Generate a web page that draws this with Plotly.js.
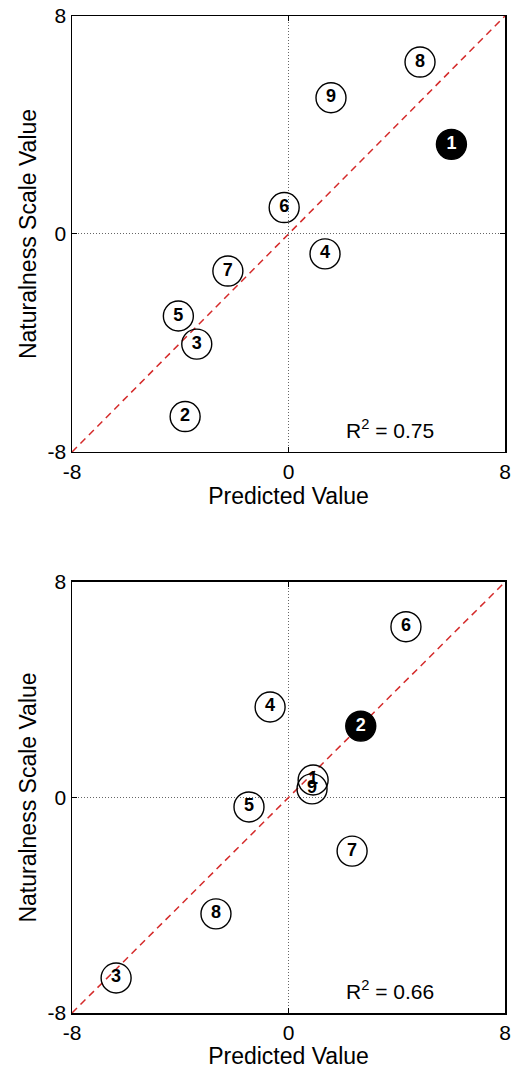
<!DOCTYPE html>
<html>
<head>
<meta charset="utf-8">
<script src="https://cdn.plot.ly/plotly-3.0.1.min.js"></script>
<style>html,body{margin:0;padding:0;background:#fff;}#chart{width:519px;height:1069px;}</style>
</head>
<body>
<div id="chart"></div>
<script>
// Point labels (shared by both panels)
const pointLabels = ['1','2','3','4','5','6','7','8','9'];

// Top panel
const topPredicted = [6.02, -3.82, -3.39, 1.35, -4.07, -0.16, -2.24, 4.86, 1.57];
const topScale     = [3.29, -6.70, -4.04, -0.73, -3.01, 0.97, -1.36, 6.31, 5.00];
const topHighlight = '1';
const topR2 = '0.75';

// Bottom panel
const botPredicted = [0.91, 2.67, -6.37, -0.68, -1.46, 4.34, 2.35, -2.68, 0.87];
const botScale     = [0.65, 2.65, -6.70, 3.36, -0.35, 6.34, -1.99, -4.32, 0.32];
const botHighlight = '2';
const botR2 = '0.66';

// Identity line and axis ticks
const identity = [-8, 8];
const tickVals = [-8, 0, 8];
const xTitle = 'Predicted Value';
const yTitle = 'Naturalness Scale Value';

const FONT = 'Arial, "Liberation Sans", sans-serif';

function panelTraces(xs, ys, hl, xa, ya) {
  const open = {x: [], y: [], t: []};
  const filled = {x: [], y: [], t: []};
  pointLabels.forEach((lab, i) => {
    const g = lab === hl ? filled : open;
    g.x.push(xs[i]); g.y.push(ys[i]); g.t.push(lab);
  });
  return [
    {x: identity, y: identity, xaxis: xa, yaxis: ya, mode: 'lines',
     line: {color: '#d42a2a', width: 1.5, dash: '7px,5px'}, hoverinfo: 'skip'},
    {x: open.x, y: open.y, text: open.t, xaxis: xa, yaxis: ya, mode: 'markers+text',
     textposition: 'middle center',
     textfont: {family: FONT, size: 18, color: '#000', weight: 'bold'},
     marker: {symbol: 'circle-open', size: 30, color: '#000', line: {width: 1.4, color: '#000'}}},
    {x: filled.x, y: filled.y, text: filled.t, xaxis: xa, yaxis: ya, mode: 'markers+text',
     textposition: 'middle center',
     textfont: {family: FONT, size: 18, color: '#fff', weight: 'bold'},
     marker: {symbol: 'circle', size: 30, color: '#000', line: {width: 1.4, color: '#000'}}}
  ];
}

const data = [].concat(
  panelTraces(topPredicted, topScale, topHighlight, 'x', 'y'),
  panelTraces(botPredicted, botScale, botHighlight, 'x2', 'y2')
);

function axis(extra) {
  return Object.assign({
    range: [-8, 8], tickvals: tickVals, ticktext: tickVals.map(v => v < 0 ? '-' + Math.abs(v) : String(v)),
    showline: true, linecolor: '#000', linewidth: 1.5, mirror: 'ticks',
    ticks: 'inside', ticklen: 5, tickcolor: '#000', tickwidth: 1,
    showgrid: true, gridcolor: '#666', gridwidth: 1, griddash: '1px,2px',
    zeroline: false, fixedrange: true,
    tickfont: {family: FONT, size: 21, color: '#000'}
  }, extra);
}

const titleFont = {family: FONT, size: 23, color: '#000'};

const layout = {
  width: 519, height: 1069,
  margin: {l: 72, r: 14, t: 16, b: 56},
  paper_bgcolor: '#fff', plot_bgcolor: '#fff',
  showlegend: false,
  xaxis: axis({anchor: 'y', domain: [0, 1], title: {text: xTitle, font: titleFont, standoff: 2}}),
  yaxis: axis({anchor: 'x', domain: [0.5627, 1], title: {text: yTitle, font: titleFont, standoff: 4}}),
  xaxis2: axis({anchor: 'y2', domain: [0, 1], title: {text: xTitle, font: titleFont, standoff: 2}}),
  yaxis2: axis({anchor: 'x2', domain: [0, 0.4323], title: {text: yTitle, font: titleFont, standoff: 4}}),
  annotations: [
    {xref: 'x', yref: 'y', x: 3.75, y: -7.15, text: 'R<sup>2</sup> = ' + topR2, showarrow: false,
     xanchor: 'center', yanchor: 'middle', font: {family: FONT, size: 21, color: '#000'}},
    {xref: 'x2', yref: 'y2', x: 3.75, y: -7.15, text: 'R<sup>2</sup> = ' + botR2, showarrow: false,
     xanchor: 'center', yanchor: 'middle', font: {family: FONT, size: 21, color: '#000'}}
  ]
};

Plotly.newPlot('chart', data, layout, {staticPlot: true, displayModeBar: false});
</script>
</body>
</html>
